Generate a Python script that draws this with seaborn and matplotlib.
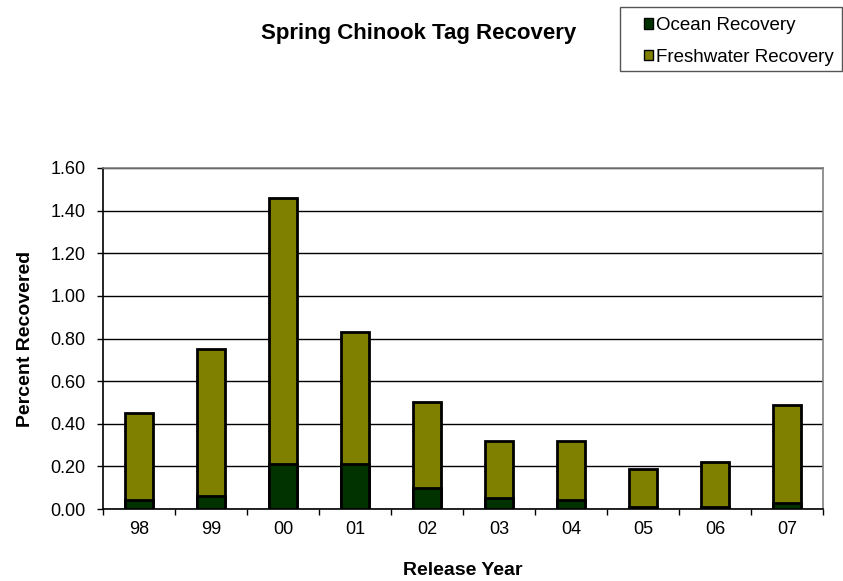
import numpy as np
import pandas as pd
import seaborn as sb
from matplotlib import pyplot as plt
from matplotlib.patches import Patch, Rectangle

years = ["98", "99", "00", "01", "02", "03", "04", "05", "06", "07"]
ocean = [0.04, 0.06, 0.21, 0.21, 0.10, 0.05, 0.04, 0.01, 0.01, 0.03]
freshwater = [0.41, 0.69, 1.25, 0.62, 0.40, 0.27, 0.28, 0.18, 0.21, 0.46]

ocean_color = "#003300"
fresh_color = "#808000"

df = pd.DataFrame({"year": years, "ocean": ocean, "freshwater": freshwater})
df["total"] = df["ocean"] + df["freshwater"]

sb.set_style("white")
plt.rcParams["font.family"] = ["Liberation Sans", "DejaVu Sans"]
plt.rcParams["text.color"] = "black"
plt.rcParams["axes.labelcolor"] = "black"
plt.rcParams["xtick.color"] = "black"
plt.rcParams["ytick.color"] = "black"

W, H = 843, 581
fig = plt.figure(figsize=(W / 100, H / 100), dpi=100)
ax = fig.add_axes([103 / W, 1 - 509 / H, 720 / W, 341 / H])

# stacked bars: total first, ocean drawn over the bottom part
sb.barplot(data=df, x="year", y="total", color=fresh_color, width=0.4,
           edgecolor="black", linewidth=2, saturation=1, ax=ax, zorder=3)
sb.barplot(data=df, x="year", y="ocean", color=ocean_color, width=0.4,
           edgecolor="black", linewidth=2, saturation=1, ax=ax, zorder=3)

ax.set_ylim(0, 1.6)
ax.set_xlim(-0.5, 9.5)
yt = np.arange(0, 1.61, 0.2)
ax.set_yticks(yt)
ax.set_yticklabels([f"{v:.2f}" for v in yt], fontsize=13)
ax.yaxis.grid(True, color="black", linewidth=1)
ax.set_axisbelow(True)

ax.set_xticks(range(len(years)))
ax.set_xticklabels(years, fontsize=13)
ax.tick_params(axis="x", which="major", length=0, pad=9)
ax.set_xticks(np.arange(-0.5, 10, 1), minor=True)
ax.tick_params(axis="x", which="minor", length=4.5, width=1, direction="out", bottom=True)
ax.tick_params(axis="y", length=4.5, width=1, direction="out", left=True, pad=8)

for side in ["top", "right"]:
    ax.spines[side].set_color("#808080")
    ax.spines[side].set_linewidth(1.2)
for side in ["left", "bottom"]:
    ax.spines[side].set_color("black")
    ax.spines[side].set_linewidth(1.2)

ax.set_xlabel("Release Year", fontsize=14, fontweight="bold", labelpad=17)
ax.set_ylabel("Percent Recovered", fontsize=14, fontweight="bold", labelpad=12)

fig.text(419 / W, 1 - 34 / H, "Spring Chinook Tag Recovery", fontsize=16,
         fontweight="bold", ha="center", va="center")

# legend frame drawn separately (Excel-style, offset box)
fig.patches.append(Rectangle((620 / W, 1 - 71 / H), 222 / W, 64 / H,
                             transform=fig.transFigure, facecolor="white",
                             edgecolor="#555555", linewidth=1))
handles = [Patch(facecolor=ocean_color, edgecolor="black", label="Ocean Recovery"),
           Patch(facecolor=fresh_color, edgecolor="black", label="Freshwater Recovery")]
fig.legend(handles=handles, loc="upper left", bbox_to_anchor=(629 / W, 1 - 2 / H),
           fontsize=13.5, frameon=False, handlelength=0.5, handleheight=0.5,
           handletextpad=0.12, borderpad=0.3, labelspacing=0.78)

plt.savefig("out.png", dpi=100)
